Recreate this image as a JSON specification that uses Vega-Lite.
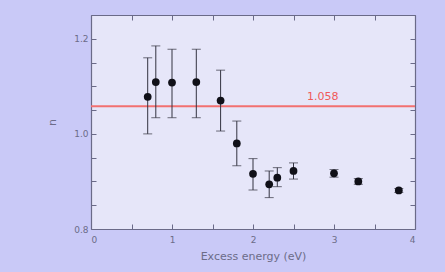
{
  "$schema": "https://vega.github.io/schema/vega-lite/v6.json",
  "width": 324,
  "height": 214,
  "autosize": {"type": "none"},
  "padding": {"left": 91, "top": 15, "right": 30, "bottom": 43},
  "background": "#c9c9f7",
  "config": {
    "view": {"fill": "#e6e6f9", "stroke": null},
    "axis": {
      "domainColor": "#6a6a88",
      "tickColor": "#6a6a88",
      "labelColor": "#6c6c88",
      "titleColor": "#6c6c88",
      "labelFont": "DejaVu Sans",
      "titleFont": "DejaVu Sans",
      "labelFontSize": 9,
      "titleFontSize": 11,
      "titleFontWeight": "normal",
      "grid": false,
      "tickSize": -5,
      "domainWidth": 1.2
    }
  },
  "datasets": {
    "pts": [
      {"e": 0.7, "n": 1.078, "lo": 1.0, "hi": 1.16},
      {"e": 0.8, "n": 1.109, "lo": 1.034, "hi": 1.185},
      {"e": 1.0, "n": 1.108, "lo": 1.034, "hi": 1.178},
      {"e": 1.3, "n": 1.109, "lo": 1.034, "hi": 1.178},
      {"e": 1.6, "n": 1.07, "lo": 1.006, "hi": 1.134},
      {"e": 1.8, "n": 0.98, "lo": 0.933, "hi": 1.027},
      {"e": 2.0, "n": 0.916, "lo": 0.882, "hi": 0.948},
      {"e": 2.2, "n": 0.894, "lo": 0.866, "hi": 0.922},
      {"e": 2.3, "n": 0.908, "lo": 0.889, "hi": 0.929},
      {"e": 2.5, "n": 0.922, "lo": 0.905, "hi": 0.939},
      {"e": 3.0, "n": 0.917, "lo": 0.909, "hi": 0.925},
      {"e": 3.3, "n": 0.9, "lo": 0.894, "hi": 0.906},
      {"e": 3.8, "n": 0.881, "lo": 0.877, "hi": 0.885}
    ],
    "ref": [{"v": 1.058, "e": 2.86, "label": "1.058"}]
  },
  "layer": [
    {
      "data": {"name": "ref"},
      "mark": {"type": "rule", "color": "#f27070", "strokeWidth": 2},
      "encoding": {
        "y": {"field": "v", "type": "quantitative", "scale": {"domain": [0.8, 1.25], "nice": false, "zero": false},
          "axis": {"orient": "right", "values": [0.8,0.85,0.9,0.95,1.0,1.05,1.1,1.15,1.2,1.25], "labels": false, "title": null}}
      }
    },
    {
      "data": {"name": "ref"},
      "mark": {"type": "text", "color": "#f05a5a", "fontSize": 11, "font": "DejaVu Sans", "dy": -9},
      "encoding": {
        "x": {"field": "e", "type": "quantitative", "axis": null},
        "y": {"field": "v", "type": "quantitative", "axis": null},
        "text": {"field": "label"}
      }
    },
    {
      "data": {"name": "pts"},
      "mark": {"type": "errorbar", "ticks": {"size": 9}, "color": "#333340", "thickness": 1},
      "encoding": {
        "x": {"field": "e", "type": "quantitative", "scale": {"domain": [0, 4], "nice": false},
          "axis": {"orient": "top", "values": [0,0.5,1,1.5,2,2.5,3,3.5,4], "labels": false, "title": null}},
        "y": {"field": "lo", "type": "quantitative", "axis": null},
        "y2": {"field": "hi"}
      }
    },
    {
      "data": {"name": "pts"},
      "mark": {"type": "circle", "size": 60, "color": "#101018", "opacity": 1},
      "encoding": {
        "x": {"field": "e", "type": "quantitative", "scale": {"domain": [0, 4], "nice": false},
          "axis": {"orient": "bottom", "values": [0,0.5,1,1.5,2,2.5,3,3.5,4], "labelExpr": "datum.value % 1 == 0 ? format(datum.value, 'd') : ''", "title": "Excess energy (eV)", "titlePadding": 6, "labelPadding": 11}},
        "y": {"field": "n", "type": "quantitative", "scale": {"domain": [0.8, 1.25], "nice": false, "zero": false},
          "axis": {"orient": "left", "values": [0.8,0.85,0.9,0.95,1.0,1.05,1.1,1.15,1.2,1.25], "labelExpr": "abs(datum.value*10 - round(datum.value*10)) < 0.001 && round(datum.value*10) % 2 == 0 ? format(datum.value, '.1f') : ''", "title": "n", "titlePadding": 16, "labelPadding": 8}}
      }
    }
  ],
  "resolve": {"axis": {"x": "independent", "y": "independent"}}
}
